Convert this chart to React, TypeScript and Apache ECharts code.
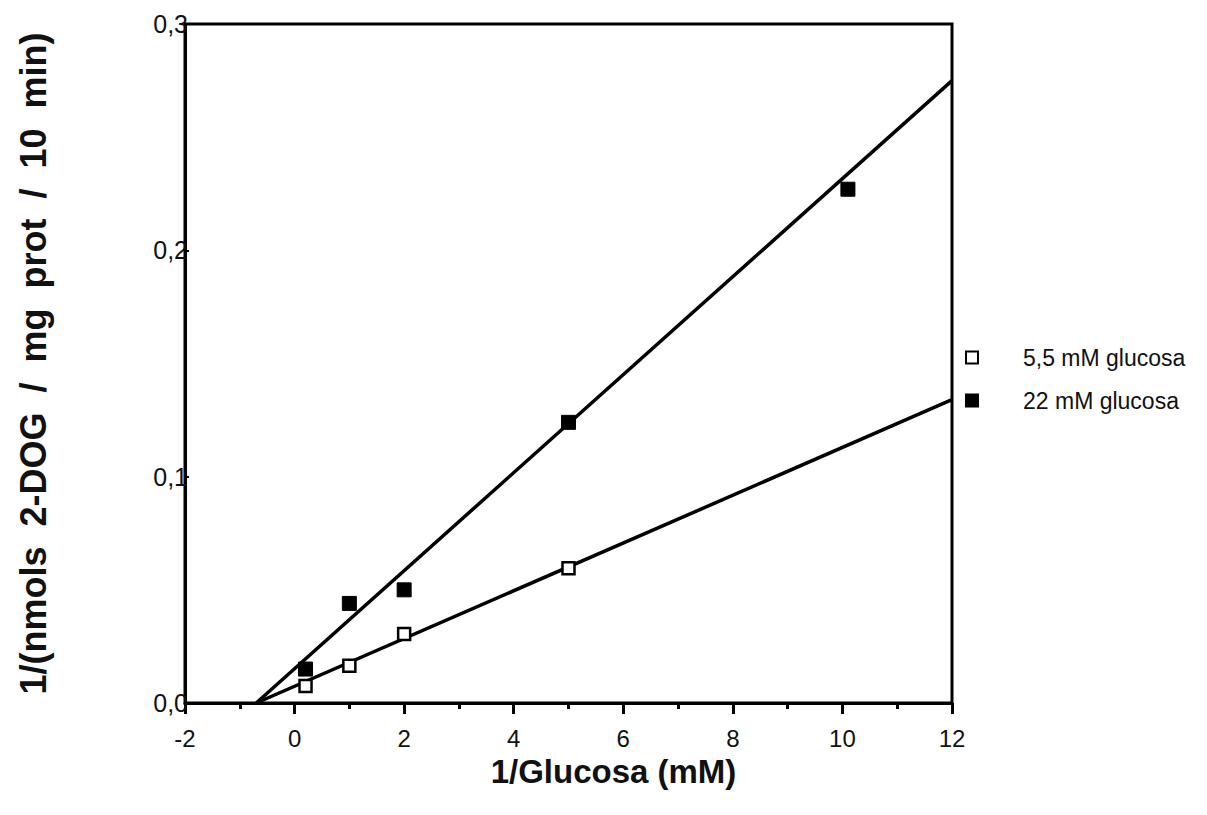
import React, { useEffect, useRef } from "react";
import * as echarts from "echarts";

// Double-reciprocal data: 1/[glucose] (mM) vs 1/uptake
const invGlucose55 = [0.2, 1, 2, 5];
const invUptake55 = [0.0075, 0.0165, 0.0305, 0.0595];
const invGlucose22 = [0.2, 1, 2, 5, 10.1];
const invUptake22 = [0.015, 0.044, 0.05, 0.124, 0.227];

// Fitted regression lines (end points within the plotted range)
const fitX = [-0.7, 12];
const fit55 = [0, 0.134];
const fit22 = [0, 0.275];

const yTickLabels = ["0,0", "0,1", "0,2", "0,3"];
const seriesNames = ["5,5 mM glucosa", "22 mM glucosa"];

const FONT = "'Liberation Sans', Arial, Helvetica, sans-serif";

export default function App() {
  const ref = useRef<HTMLDivElement>(null);

  useEffect(() => {
    if (!ref.current) return;
    const chart = echarts.init(ref.current, null, { renderer: "svg" });
    const pts = (xs: number[], ys: number[]) => xs.map((x, i) => [x, ys[i]]);

    chart.setOption({
      animation: false,
      backgroundColor: "#ffffff",
      grid: {
        left: 185,
        right: 255,
        top: 24,
        bottom: 112,
        show: true,
        borderColor: "#000",
        borderWidth: 3,
        containLabel: false,
      },
      legend: {
        orient: "vertical",
        left: 960,
        top: 341,
        itemWidth: 12,
        itemHeight: 12,
        itemGap: 20,
        icon: "rect",
        data: seriesNames,
        textStyle: {
          fontFamily: FONT,
          fontSize: 23,
          color: "#111",
          padding: [0, 0, 0, 40],
        },
      },
      xAxis: {
        type: "value",
        min: -2,
        max: 12,
        interval: 2,
        name: "1/Glucosa (mM)",
        nameLocation: "middle",
        nameGap: 50,
        nameTextStyle: {
          fontFamily: FONT,
          fontSize: 33,
          fontWeight: "bold",
          color: "#111",
          padding: [0, 0, 0, 90],
        },
        axisLine: { show: true, onZero: false, lineStyle: { color: "#000", width: 3 } },
        axisTick: { show: true, length: 11, lineStyle: { color: "#000", width: 3 } },
        minorTick: { show: true, splitNumber: 2, length: 6, lineStyle: { color: "#000", width: 3 } },
        axisLabel: {
          fontFamily: FONT,
          fontSize: 24,
          color: "#111",
          margin: 23,
        },
        splitLine: { show: false },
      },
      yAxis: {
        type: "value",
        min: 0,
        max: 0.3,
        interval: 0.1,
        name: "1/(nmols  2-DOG  /  mg  prot  /  10  min)",
        nameLocation: "middle",
        nameGap: 134,
        nameTextStyle: {
          fontFamily: FONT,
          fontSize: 36,
          fontWeight: "bold",
          color: "#111",
        },
        axisLine: { show: true, onZero: false, lineStyle: { color: "#000", width: 3 } },
        axisTick: { show: true, inside: true, length: 4, lineStyle: { color: "#000", width: 2 } },
        axisLabel: {
          fontFamily: FONT,
          fontSize: 25,
          color: "#111",
          margin: -3,
          formatter: (_v: number, i: number) => yTickLabels[i] ?? "",
        },
        splitLine: { show: false },
      },
      series: [
        {
          name: "fit55",
          type: "line",
          data: pts(fitX, fit55),
          showSymbol: false,
          silent: true,
          lineStyle: { color: "#000", width: 3.5 },
          z: 2,
        },
        {
          name: "fit22",
          type: "line",
          data: pts(fitX, fit22),
          showSymbol: false,
          silent: true,
          lineStyle: { color: "#000", width: 3.5 },
          z: 2,
        },
        {
          name: seriesNames[1],
          type: "scatter",
          data: pts(invGlucose22, invUptake22),
          symbol: "rect",
          symbolSize: 14,
          itemStyle: { color: "#000", borderColor: "#000", borderWidth: 1, opacity: 1 },
          z: 3,
        },
        {
          name: seriesNames[0],
          type: "scatter",
          data: pts(invGlucose55, invUptake55),
          symbol: "rect",
          symbolSize: 12,
          itemStyle: { color: "#fff", borderColor: "#000", borderWidth: 2.5, opacity: 1 },
          z: 4,
        },
      ],
    });

    return () => chart.dispose();
  }, []);

  return (
    <div
      ref={ref}
      style={{ position: "fixed", left: 0, top: 0, width: 1207, height: 815, background: "#fff" }}
    />
  );
}
